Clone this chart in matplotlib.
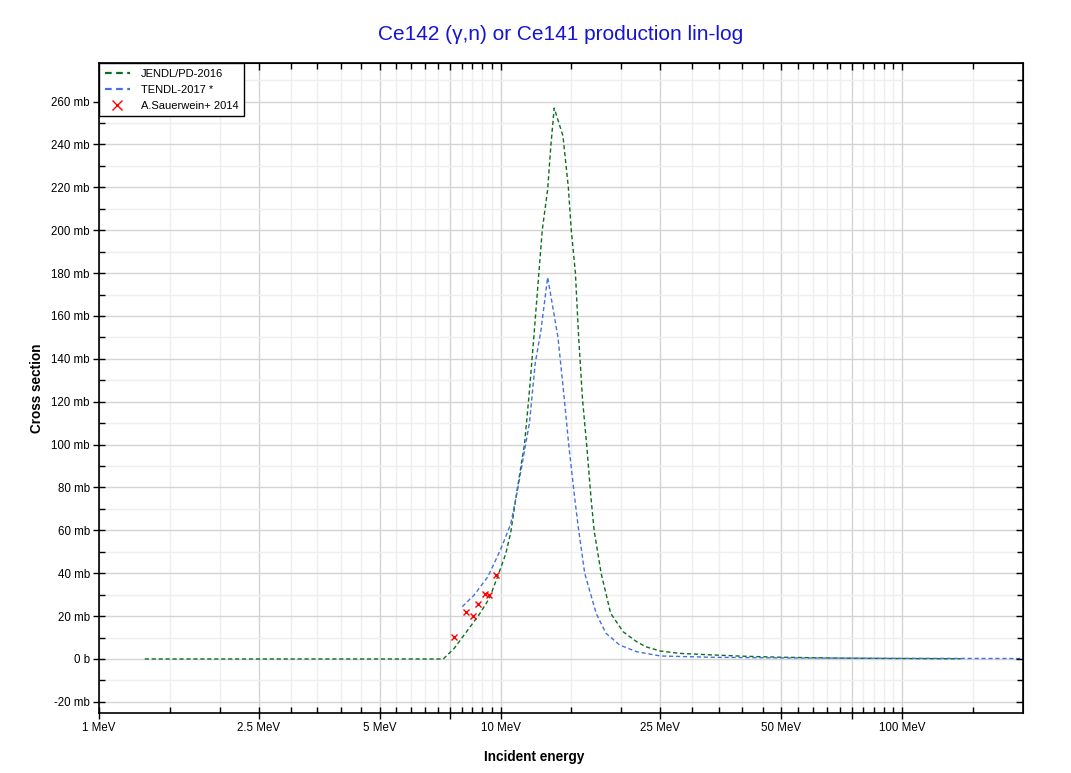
import matplotlib
matplotlib.use("Agg")
import matplotlib.pyplot as plt
from matplotlib.lines import Line2D
from matplotlib.ticker import FixedLocator, FuncFormatter, NullFormatter

plt.rcParams['font.family'] = ['Liberation Sans', 'DejaVu Sans']

# ---- data (energy in MeV, cross section in mb) ----
jendl_e = [1.3, 7.2, 7.67, 8.43, 8.83, 9.38, 9.83, 10.3, 10.6, 11.0, 11.47, 11.8,
           12.1, 12.7, 13.1, 13.35, 13.6, 14.3, 14.75, 15.0, 15.36, 15.65, 16.0,
           16.4, 16.8, 17.1, 17.8, 18.8, 20.2, 21.8, 23.0, 25.0, 28.0, 33.5, 40.0,
           50.0, 70.0, 100.0, 140.0]
jendl_xs = [0, 0, 5, 15.4, 20.5, 28.3, 38.4, 49, 59, 79, 100, 125,
            150, 200, 219, 240, 257, 244, 220, 200, 180, 150, 121,
            99, 75, 60, 40, 21.3, 12.7, 8.1, 5.7, 3.7, 2.6, 1.9, 1.3,
            0.8, 0.4, 0.2, 0.1]

tendl_e = [8.03, 8.6, 9.3, 9.83, 10.1, 10.6, 11.0, 11.8, 12.2, 12.6, 13.1, 13.9,
           14.4, 14.8, 15.3, 15.6, 16.2, 17.3, 18.3, 19.8, 21.8, 25.0, 33.5, 50.0,
           100.0, 200.0]
tendl_xs = [24.4, 29.9, 38.4, 48, 53, 63, 78, 110, 138, 153, 178, 150,
            122, 99, 75, 62, 40, 21.3, 12, 6.5, 3.4, 1.4, 0.8, 0.5,
            0.3, 0.2]

exp_e = [7.67, 8.2, 8.52, 8.8, 9.16, 9.38, 9.74]
exp_xs = [10.4, 22.1, 20.1, 25.5, 30.3, 29.9, 39.4]

x_major = [1, 2.5, 5, 7.5, 10, 25, 50, 75, 100]
x_labels = {1: "1 MeV", 2.5: "2.5 MeV", 5: "5 MeV", 10: "10 MeV",
            25: "25 MeV", 50: "50 MeV", 100: "100 MeV"}
x_minor = [1.5, 2, 3, 3.5, 4, 4.5, 5.5, 6, 6.5, 7, 8, 8.5, 9, 9.5,
           15, 20, 30, 35, 40, 45, 55, 60, 65, 70, 80, 85, 90, 95, 150]
y_major = list(range(-20, 261, 20))
y_minor = list(range(-10, 271, 20))


def xfmt(v, p):
    for k, s in x_labels.items():
        if abs(v - k) < 1e-6:
            return s
    return ""


# ---- figure ----
W, H = 1071, 773
fig = plt.figure(figsize=(W / 100, H / 100), dpi=100)
ax = fig.add_axes([99 / W, (H - 713) / H, 924 / W, 650 / H])

green = '#0d6e1f'
blue = '#4471e0'

ax.plot(jendl_e, jendl_xs, color=green, lw=1.0, ls=(0, (3, 2)), zorder=3)
ax.plot(tendl_e, tendl_xs, color=blue, lw=1.0, ls=(0, (3, 2)), zorder=3)
ax.plot(exp_e, exp_xs, ls='none', marker='x', color='red', ms=5, mew=1.0, zorder=4)

ax.set_xscale('log')
ax.set_xlim(1, 200)
ax.set_ylim(-25.2, 278)

ax.xaxis.set_major_locator(FixedLocator(x_major))
ax.xaxis.set_minor_locator(FixedLocator(x_minor))
ax.xaxis.set_major_formatter(FuncFormatter(xfmt))
ax.xaxis.set_minor_formatter(NullFormatter())
ax.yaxis.set_major_locator(FixedLocator(y_major))
ax.yaxis.set_minor_locator(FixedLocator(y_minor))
ax.yaxis.set_major_formatter(FuncFormatter(lambda v, p: "0 b" if abs(v) < 1e-9 else f"{v:g} mb"))

ax.grid(which='major', color='#d4d4d4', lw=1.0, zorder=0)
ax.grid(which='minor', color='#efefef', lw=1.0, zorder=0)
ax.set_axisbelow(True)

ax.tick_params(which='major', direction='inout', length=9, width=1.0, labelsize=8.3,
               colors='black', pad=2)
ax.tick_params(which='minor', direction='in', length=4, width=1.0)
for s in ax.spines.values():
    s.set_linewidth(1.2)
    s.set_color('black')

# top and right ticks pointing inward only
top = ax.secondary_xaxis('top')
top.set_zorder(10)
top.xaxis.set_major_locator(FixedLocator(x_major))
top.xaxis.set_minor_locator(FixedLocator(x_minor))
top.xaxis.set_major_formatter(NullFormatter())
top.xaxis.set_minor_formatter(NullFormatter())
top.tick_params(which='major', direction='in', length=5, width=1.0, color='black')
top.tick_params(which='minor', direction='in', length=4, width=1.0, color='black')
right = ax.secondary_yaxis('right')
right.set_zorder(10)
right.yaxis.set_major_locator(FixedLocator(y_major))
right.yaxis.set_minor_locator(FixedLocator(y_minor))
right.yaxis.set_major_formatter(NullFormatter())
right.yaxis.set_minor_formatter(NullFormatter())
right.tick_params(which='major', direction='in', length=5, width=1.0, color='black')
right.tick_params(which='minor', direction='in', length=4, width=1.0, color='black')

ax.set_xlabel("Incident energy", fontsize=9.8, fontweight='bold')
ax.xaxis.set_label_coords((534 - 99) / 924, -(757 - 713) / 650)
ax.xaxis.label.set_va('center')
ax.set_ylabel("Cross section", fontsize=9.8, fontweight='bold')
ax.yaxis.set_label_coords(-(99 - 37) / 924, 0.5)
ax.yaxis.label.set_va('center')
fig.text(561 / W, 1 - 35 / H, "Ce142 (γ,n) or Ce141 production lin-log",
         ha='center', va='center', fontsize=15, color='#1414d2')

handles = [Line2D([], [], color=green, lw=1.6, ls=(0, (3, 2))),
           Line2D([], [], color=blue, lw=1.6, ls=(0, (3, 2))),
           Line2D([], [], color='red', ls='none', marker='x', ms=7, mew=1.0)]
leg = ax.legend(handles, ["JENDL/PD-2016", "TENDL-2017 *", "A.Sauerwein+ 2014"],
                loc='upper left', borderaxespad=0, fontsize=8, frameon=True,
                fancybox=False, handlelength=2.3, handletextpad=1.0,
                borderpad=0.5, labelspacing=0.55)
leg.get_frame().set_edgecolor('black')
leg.get_frame().set_linewidth(1.0)
leg.get_frame().set_alpha(1.0)
leg.set_zorder(20)

fig.savefig("out.png", dpi=100)
